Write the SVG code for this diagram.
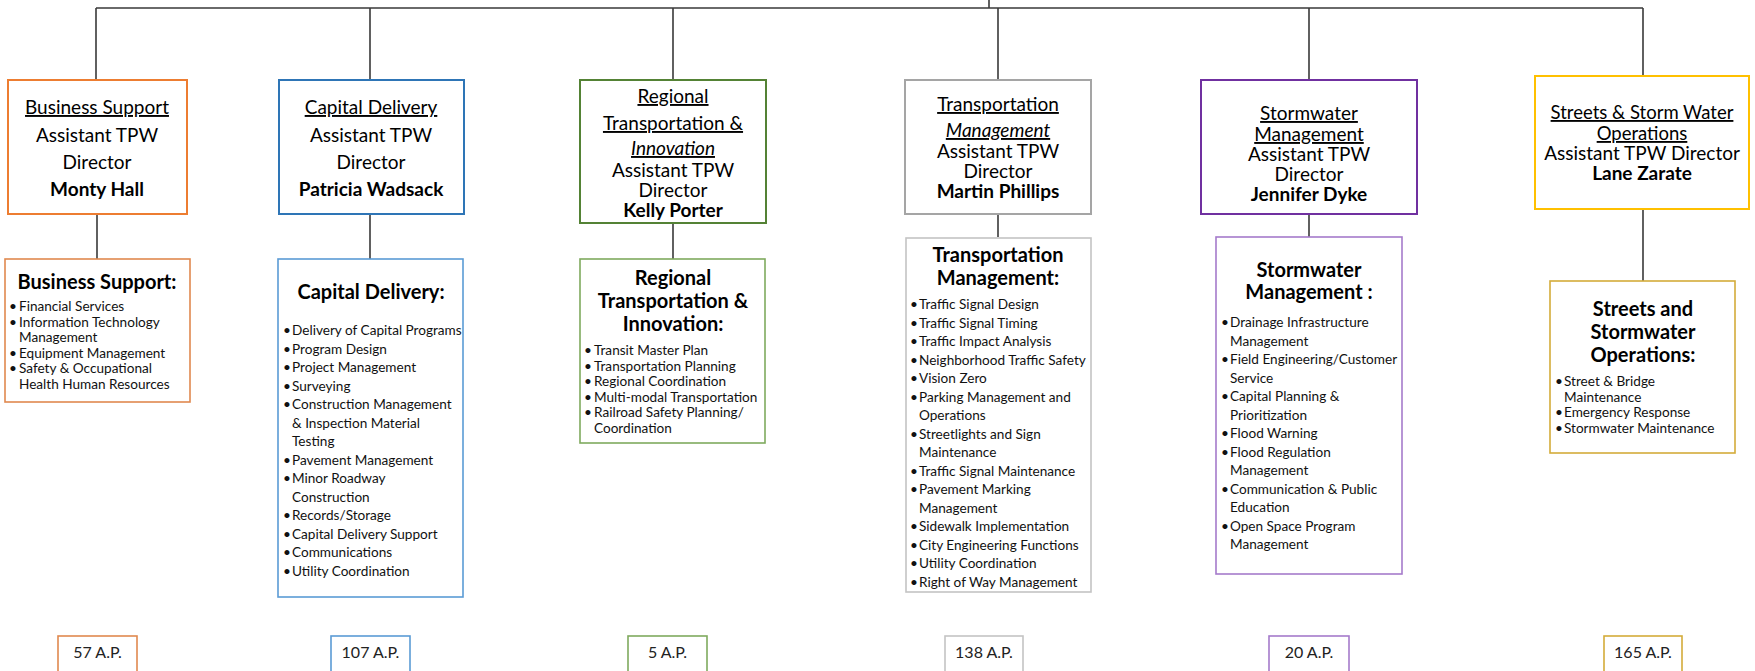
<svg xmlns="http://www.w3.org/2000/svg" width="1755" height="671" viewBox="0 0 1755 671">
<style>
text{font-family:Lato,"Liberation Sans",sans-serif;fill:#111;}
.h{font-size:19px;text-anchor:middle;fill:#000;}
.s{font-size:18.5px;}
.u{text-decoration:underline;}
.i{font-style:italic;}
.b{font-weight:bold;}
.t{font-size:20px;font-weight:bold;text-anchor:middle;fill:#000;}
.it{font-size:13.6px;fill:#1e1e30;}
.ap{font-size:16px;text-anchor:middle;fill:#222;}
.box{fill:#fff;stroke-width:2;}
.lbox{fill:#fff;stroke-width:1.6;}
.c{stroke:#3a3a3a;stroke-width:1.6;fill:none;}
</style>
<rect width="1755" height="671" fill="#fff"/>
<g id="connectors">
<path class="c" d="M989 0V8M96 8H1643M96 8V80M370 8V80M673 8V80M998 8V80M1309 8V80M1643 8V76"/>
<path class="c" d="M97 214V259M370 214V259M673 223V259M998 214V237M1309 214V237M1643 209V281"/>
</g>
<g id="business-support-director">
<rect class="box" x="8" y="80" width="179" height="134" stroke="#ED7D31"/>
<text class="h u" x="97" y="114">Business Support</text>
<text class="h" x="97" y="142">Assistant TPW</text>
<text class="h" x="97" y="169">Director</text>
<text class="h b" x="97" y="196">Monty Hall</text>
</g>
<g id="capital-delivery-director">
<rect class="box" x="279" y="80" width="185" height="134" stroke="#2E75B6"/>
<text class="h u" x="371" y="114">Capital Delivery</text>
<text class="h" x="371" y="142">Assistant TPW</text>
<text class="h" x="371" y="169">Director</text>
<text class="h b" x="371" y="196">Patricia Wadsack</text>
</g>
<g id="regional-director">
<rect class="box" x="580" y="80" width="186" height="143" stroke="#548235"/>
<text class="h u" x="673" y="103">Regional</text>
<text class="h u" x="673" y="130">Transportation &amp;</text>
<text class="h u i" x="673" y="155">Innovation</text>
<text class="h" x="673" y="177">Assistant TPW</text>
<text class="h" x="673" y="197">Director</text>
<text class="h b" x="673" y="217">Kelly Porter</text>
</g>
<g id="transportation-director">
<rect class="box" x="905" y="80" width="186" height="134" stroke="#A5A5A5"/>
<text class="h u" x="998" y="111">Transportation</text>
<text class="h u i" x="998" y="137">Management</text>
<text class="h" x="998" y="158">Assistant TPW</text>
<text class="h" x="998" y="178">Director</text>
<text class="h b" x="998" y="198">Martin Phillips</text>
</g>
<g id="stormwater-director">
<rect class="box" x="1201" y="80" width="216" height="134" stroke="#7030A0"/>
<text class="h u" x="1309" y="120">Stormwater</text>
<text class="h u" x="1309" y="141">Management</text>
<text class="h" x="1309" y="161">Assistant TPW</text>
<text class="h" x="1309" y="181">Director</text>
<text class="h b" x="1309" y="201">Jennifer Dyke</text>
</g>
<g id="streets-director">
<rect class="box" x="1535" y="76" width="214" height="133" stroke="#FFC000"/>
<text class="h s u" x="1642" y="119">Streets &amp; Storm Water</text>
<text class="h s u" x="1642" y="140">Operations</text>
<text class="h" x="1642" y="160">Assistant TPW Director</text>
<text class="h b" x="1642" y="180">Lane Zarate</text>
</g>
<g id="business-support-functions">
<rect class="lbox" x="5" y="259" width="185" height="143" stroke="#E0894F"/>
<text class="t" x="97" y="289">Business Support:</text>
<g class="it">
<text x="9" y="311">•</text><text x="19" y="311">Financial Services</text>
<text x="9" y="326.5">•</text><text x="19" y="326.5">Information Technology</text>
<text x="19" y="342">Management</text>
<text x="9" y="357.5">•</text><text x="19" y="357.5">Equipment Management</text>
<text x="9" y="373">•</text><text x="19" y="373">Safety &amp; Occupational</text>
<text x="19" y="388.5">Health Human Resources</text>
</g>
</g>
<g id="capital-delivery-functions">
<rect class="lbox" x="278" y="259" width="185" height="338" stroke="#5B9BD5"/>
<text class="t" x="371" y="299">Capital Delivery:</text>
<g class="it">
<text x="283" y="335">•</text><text x="292" y="335">Delivery of Capital Programs</text>
<text x="283" y="353.5">•</text><text x="292" y="353.5">Program Design</text>
<text x="283" y="372">•</text><text x="292" y="372">Project Management</text>
<text x="283" y="390.5">•</text><text x="292" y="390.5">Surveying</text>
<text x="283" y="409">•</text><text x="292" y="409">Construction Management</text>
<text x="292" y="427.5">&amp; Inspection Material</text>
<text x="292" y="446">Testing</text>
<text x="283" y="464.5">•</text><text x="292" y="464.5">Pavement Management</text>
<text x="283" y="483">•</text><text x="292" y="483">Minor Roadway</text>
<text x="292" y="501.5">Construction</text>
<text x="283" y="520">•</text><text x="292" y="520">Records/Storage</text>
<text x="283" y="538.5">•</text><text x="292" y="538.5">Capital Delivery Support</text>
<text x="283" y="557">•</text><text x="292" y="557">Communications</text>
<text x="283" y="575.5">•</text><text x="292" y="575.5">Utility Coordination</text>
</g>
</g>
<g id="regional-functions">
<rect class="lbox" x="580" y="259" width="185" height="184" stroke="#7FAA5E"/>
<text class="t" x="673" y="285">Regional</text>
<text class="t" x="673" y="308">Transportation &amp;</text>
<text class="t" x="673" y="331">Innovation:</text>
<g class="it">
<text x="584" y="355">•</text><text x="594" y="355">Transit Master Plan</text>
<text x="584" y="370.5">•</text><text x="594" y="370.5">Transportation Planning</text>
<text x="584" y="386">•</text><text x="594" y="386">Regional Coordination</text>
<text x="584" y="401.5">•</text><text x="594" y="401.5">Multi-modal Transportation</text>
<text x="584" y="417">•</text><text x="594" y="417">Railroad Safety Planning/</text>
<text x="594" y="432.5">Coordination</text>
</g>
</g>
<g id="transportation-functions">
<rect class="lbox" x="906" y="238" width="185" height="354" stroke="#C4C4C4"/>
<text class="t" x="998" y="262">Transportation</text>
<text class="t" x="998" y="285">Management:</text>
<g class="it">
<text x="910" y="309">•</text><text x="919" y="309">Traffic Signal Design</text>
<text x="910" y="327.5">•</text><text x="919" y="327.5">Traffic Signal Timing</text>
<text x="910" y="346">•</text><text x="919" y="346">Traffic Impact Analysis</text>
<text x="910" y="364.5">•</text><text x="919" y="364.5">Neighborhood Traffic Safety</text>
<text x="910" y="383">•</text><text x="919" y="383">Vision Zero</text>
<text x="910" y="401.5">•</text><text x="919" y="401.5">Parking Management and</text>
<text x="919" y="420">Operations</text>
<text x="910" y="438.5">•</text><text x="919" y="438.5">Streetlights and Sign</text>
<text x="919" y="457">Maintenance</text>
<text x="910" y="475.5">•</text><text x="919" y="475.5">Traffic Signal Maintenance</text>
<text x="910" y="494">•</text><text x="919" y="494">Pavement Marking</text>
<text x="919" y="512.5">Management</text>
<text x="910" y="531">•</text><text x="919" y="531">Sidewalk Implementation</text>
<text x="910" y="549.5">•</text><text x="919" y="549.5">City Engineering Functions</text>
<text x="910" y="568">•</text><text x="919" y="568">Utility Coordination</text>
<text x="910" y="586.5">•</text><text x="919" y="586.5">Right of Way Management</text>
</g>
</g>
<g id="stormwater-functions">
<rect class="lbox" x="1216" y="237" width="186" height="337" stroke="#A57BCB"/>
<text class="t" x="1309" y="277">Stormwater</text>
<text class="t" x="1309" y="299">Management :</text>
<g class="it">
<text x="1221" y="327">•</text><text x="1230" y="327">Drainage Infrastructure</text>
<text x="1230" y="345.5">Management</text>
<text x="1221" y="364">•</text><text x="1230" y="364">Field Engineering/Customer</text>
<text x="1230" y="382.5">Service</text>
<text x="1221" y="401">•</text><text x="1230" y="401">Capital Planning &amp;</text>
<text x="1230" y="419.5">Prioritization</text>
<text x="1221" y="438">•</text><text x="1230" y="438">Flood Warning</text>
<text x="1221" y="456.5">•</text><text x="1230" y="456.5">Flood Regulation</text>
<text x="1230" y="475">Management</text>
<text x="1221" y="493.5">•</text><text x="1230" y="493.5">Communication &amp; Public</text>
<text x="1230" y="512">Education</text>
<text x="1221" y="530.5">•</text><text x="1230" y="530.5">Open Space Program</text>
<text x="1230" y="549">Management</text>
</g>
</g>
<g id="streets-functions">
<rect class="lbox" x="1550" y="281" width="185" height="172" stroke="#D4AC3A"/>
<text class="t" x="1643" y="316">Streets and</text>
<text class="t" x="1643" y="339">Stormwater</text>
<text class="t" x="1643" y="362">Operations:</text>
<g class="it">
<text x="1555" y="386">•</text><text x="1564" y="386">Street &amp; Bridge</text>
<text x="1564" y="401.5">Maintenance</text>
<text x="1555" y="417">•</text><text x="1564" y="417">Emergency Response</text>
<text x="1555" y="432.5">•</text><text x="1564" y="432.5">Stormwater Maintenance</text>
</g>
</g>
<g id="ap-57"><rect class="lbox" x="58" y="636" width="79" height="50" stroke="#E0894F"/><text class="ap" x="97.5" y="658">57 A.P.</text></g>
<g id="ap-107"><rect class="lbox" x="331" y="636" width="79" height="50" stroke="#5B9BD5"/><text class="ap" x="370.5" y="658">107 A.P.</text></g>
<g id="ap-5"><rect class="lbox" x="628" y="636" width="79" height="50" stroke="#7FAA5E"/><text class="ap" x="667.5" y="658">5 A.P.</text></g>
<g id="ap-138"><rect class="lbox" x="945" y="636" width="78" height="50" stroke="#C4C4C4"/><text class="ap" x="984" y="658">138 A.P.</text></g>
<g id="ap-20"><rect class="lbox" x="1269" y="636" width="80" height="50" stroke="#A57BCB"/><text class="ap" x="1309" y="658">20 A.P.</text></g>
<g id="ap-165"><rect class="lbox" x="1604" y="636" width="78" height="50" stroke="#D4AC3A"/><text class="ap" x="1643" y="658">165 A.P.</text></g>
</svg>
